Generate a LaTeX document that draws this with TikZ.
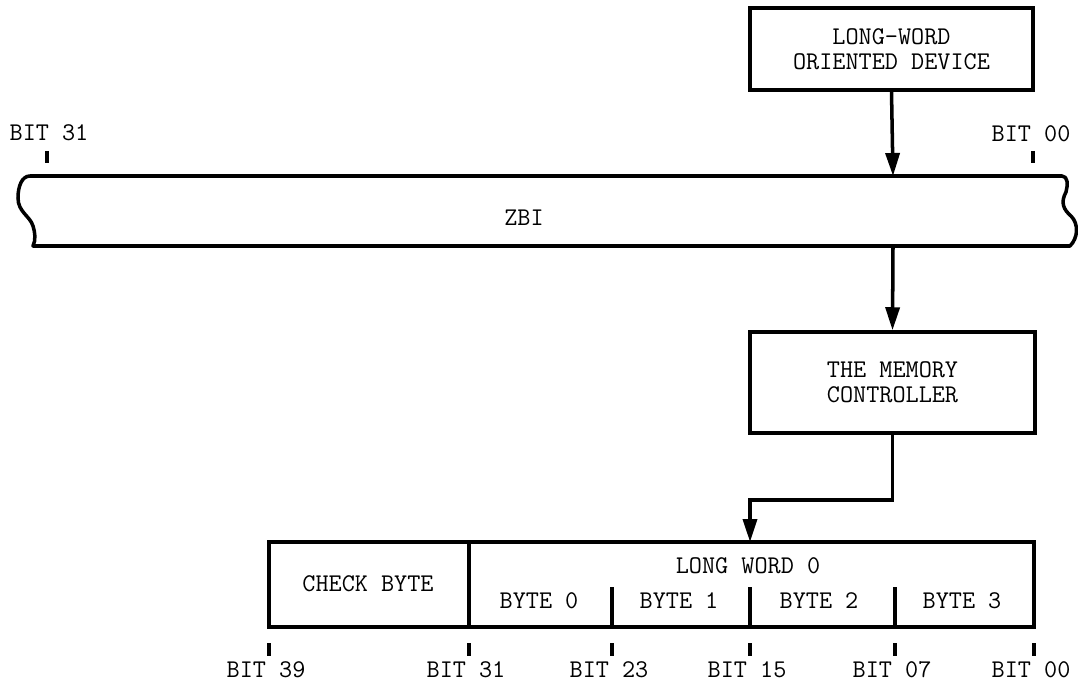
\documentclass[tikz,border=0pt]{standalone}
\usetikzlibrary{arrows.meta}
\begin{document}
\begin{tikzpicture}[x=0.02cm,y=-0.02cm,
  lw/.style={line width=2pt},
  txt/.style={font=\ttfamily\fontsize{14.5}{14}\selectfont, inner sep=0pt, align=center},
  boxnode/.style={draw, lw, rectangle, inner sep=0pt, txt},
  arr/.style={lw, -{Triangle[length=0.46cm,width=0.28cm]}},
  tick/.style={line width=2.6pt},
]
\useasboundingbox (0,0) rectangle (1078,685);

% top device box
\node[boxnode, minimum width=5.66cm, minimum height=1.64cm] (dev) at (891.5,49) {LONG-WORD\\ORIENTED DEVICE};

% ZBI bus
\draw[lw, line join=round] (30,176) -- (1062,176)
  .. controls (1068,176) and (1068,185) .. (1066,192)
  .. controls (1060,203) and (1064,210) .. (1071,216)
  .. controls (1079,224) and (1078,238) .. (1070,246)
  -- (33,246)
  .. controls (36,240) and (35,232) .. (33,226)
  .. controls (30,216) and (18,212) .. (18,198)
  .. controls (18,186) and (22,176) .. (30,176) -- cycle;
\node[txt] (zbi) at (524,218) {ZBI};
\coordinate (zbitop) at (893,176);
\coordinate (zbibot) at (893,246);

% bus bit labels
\node[txt] (b31t) at (49,133) {BIT 31};
\node[txt] (b00t) at (1031,134) {BIT 00};
\draw[tick] (47,151) -- (47,163);
\draw[tick] (1033,151) -- (1033,163);

% memory controller
\node[boxnode, minimum width=5.7cm, minimum height=2.02cm] (mc) at (892.5,382.5) {THE MEMORY\\CONTROLLER};

% arrows
\draw[arr] (dev.south) -- (zbitop);
\draw[arr] (zbibot) -- (mc.north);
\coordinate (bend) at (750,500);
\coordinate (regin) at (750,542);
\draw[arr, line join=miter] (mc.south) |- (bend) -- (regin);

% register
\node[draw, lw, rectangle, minimum width=15.3cm, minimum height=1.7cm, inner sep=0pt] (reg) at (651.5,584.5) {};
\draw[lw] (469,542) -- (469,627);
\draw[lw] (612,587) -- (612,627);
\draw[lw] (750,587) -- (750,627);
\draw[lw] (895,587) -- (895,627);

\node[txt] (chk) at (368,584) {CHECK BYTE};
\node[txt] (lw0) at (748,566) {LONG WORD 0};
\node[txt] (by0) at (539,601) {BYTE 0};
\node[txt] (by1) at (679,601) {BYTE 1};
\node[txt] (by2) at (819,601) {BYTE 2};
\node[txt] (by3) at (962,601) {BYTE 3};

% bottom ticks and labels
\foreach \x/\l/\n in {269/39/a, 469/31/b, 612/23/c, 750/15/d, 895/07/e, 1034/00/f} {
  \draw[tick] (\x,643) -- (\x,656);
  \node[txt] (bit\n) at (\x-3,670) {BIT \l};
}
\end{tikzpicture}
\end{document}
